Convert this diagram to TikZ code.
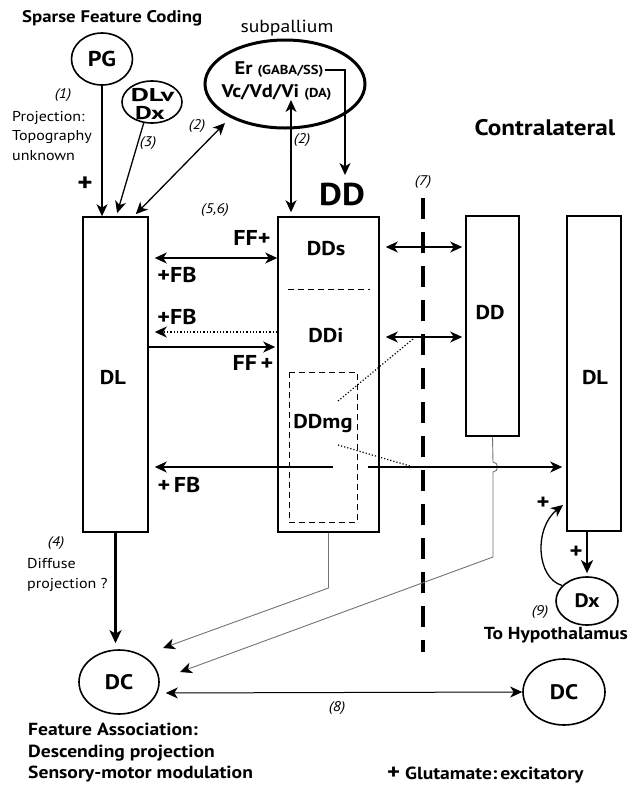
\documentclass[tikz,border=0pt]{standalone}
\usepackage{fontspec}
\setmainfont{PT Sans}[FakeStretch=1.12]
\usetikzlibrary{arrows.meta,calc,shapes.geometric}
\newcommand\myfs[2]{\fontsize{#1}{#2}\selectfont}
\begin{document}
\begin{tikzpicture}[x=1pt,y=-1pt,
  >={Stealth[length=12pt,width=11pt,inset=3.5pt]},
  ell/.style={draw,ellipse,line width=1.6pt,inner sep=0pt},
  box/.style={draw,rectangle,line width=1.5pt,inner sep=0pt},
  arr/.style={->,line width=1.3pt},
  darr/.style={<->,line width=1.3pt},
  thk/.style={->,line width=2.6pt,>={Stealth[length=13pt,width=12pt,inset=3.5pt]}},
  gline/.style={line width=0.9pt,black!55},
  garr/.style={gline,-{Stealth[length=12pt,width=11pt,inset=3.5pt,color=black]}},
  bl/.style={font=\myfs{20}{22}\bfseries,inner sep=1pt},
  fl/.style={font=\myfs{21.5}{22}\bfseries,inner sep=1pt},
  lab/.style={font=\myfs{14}{15}\itshape,inner sep=1pt},
  txt/.style={font=\myfs{14.3}{19.5},inner sep=0pt,align=left},
  btxt/.style={font=\myfs{17.5}{21.5}\bfseries,inner sep=0pt,align=left},
  plus/.style={font=\myfs{26}{26}\bfseries,inner sep=0pt},
]
\useasboundingbox (0,0) rectangle (631,788);

% ---------- titles ----------
\node[font=\myfs{16.8}{18}\bfseries,anchor=west,inner sep=0pt] (title) at (22,18) {Sparse Feature Coding};
\node[font=\myfs{17.5}{20},inner sep=0pt] (subl) at (287,28) {subpallium};
\node[font=\myfs{22.5}{24}\bfseries,inner sep=0pt] (contra) at (545,128) {Contralateral};

% ---------- ellipses ----------
\node[ell,minimum width=61pt,minimum height=52pt,font=\myfs{21.5}{22}\bfseries] (PG) at (102,59) {PG};
\node[ell,minimum width=60pt,minimum height=42pt] (DLv) at (152,102) {};
\node[font=\myfs{18.5}{18}\bfseries,inner sep=0pt] (DLvt) at (152.5,95) {\scalebox{1.35}[1]{DLv}};
\node[font=\myfs{18.5}{18}\bfseries,inner sep=0pt] (Dxt) at (150,113) {\scalebox{1.25}[1]{Dx}};
\node[ell,line width=3pt,minimum width=160pt,minimum height=88pt] (sub) at (285,84) {};
\node[font=\myfs{18.3}{20}\bfseries,inner sep=1pt] (er) at (279,70) {Er {\myfs{13}{14}(GABA/SS)}};
\node[font=\myfs{18.3}{20}\bfseries,inner sep=1pt] (vc) at (276.5,92) {Vc/Vd/Vi {\myfs{13}{14}(DA)}};

% ---------- boxes ----------
\node[box,minimum width=65pt,minimum height=315pt] (DL) at (115.5,374.5) {};
\node[box,minimum width=101pt,minimum height=315pt] (DD) at (328.5,374.5) {};
\node[box,minimum width=53pt,minimum height=220pt] (cDD) at (492.5,326) {};
\node[box,minimum width=54pt,minimum height=315pt] (cDL) at (594,373.5) {};
\node[bl] (DLt) at (113,378) {DL};
\node[bl] (cDDt) at (490,313) {DD};
\node[bl] (cDLt) at (595,378) {DL};
\node[font=\myfs{31.5}{32}\bfseries,inner sep=0pt] (DDbig) at (342,194) {DD};
\node[bl] (DDs) at (326,249) {DDs};
\node[bl] (DDi) at (326,335) {DDi};
\node[bl] (DDmg) at (323,424) {DDmg};
\draw[line width=1pt,dash pattern=on 6pt off 4pt] (288,289) -- (370,289);
\draw[line width=1pt,dash pattern=on 6pt off 4pt] (289,372) rectangle (357,522);

% ---------- lower ellipses ----------
\node[ell,minimum width=80pt,minimum height=64pt,font=\myfs{21}{22}\bfseries] (DCl) at (119,682) {DC};
\node[ell,minimum width=82pt,minimum height=66pt,font=\myfs{21}{22}\bfseries] (DCr) at (564,692) {DC};
\node[ell,minimum width=62pt,minimum height=48pt,font=\myfs{19.5}{20}\bfseries] (Dx) at (587,601) {Dx};

% ---------- coordinates ----------
\coordinate (dl2) at (116,217);
\coordinate (dl3) at (133,217);
\coordinate (s3) at (225,123);
\coordinate (s2) at (291,100);
\coordinate (ddin) at (345,175);
\coordinate (fbL) at (333,467);
\coordinate (fbR) at (368,467);
\coordinate (cv) at (563,505);
\coordinate (dlvout) at (144,122);

% ---------- top inputs ----------
\draw[arr] (PG) -- (PG |- DL.north);
\draw[arr,shorten >=4pt] (dlvout) -- (dl2);
\draw[darr,shorten >=4pt] (s3) -- (dl3);
\draw[darr,shorten >=4pt] (s2) -- (s2 |- DD.north);
\draw[arr] (er.east) -| (ddin);

% ---------- DL <-> DD ----------
\draw[darr,shorten <=6pt] (DL.east |- 0,258) -- (DD.west |- 0,258);
\draw[arr,dotted,line width=1.6pt,shorten >=6pt] (DD.west |- 0,332) -- (DL.east |- 0,332);
\draw[arr,shorten >=2pt] (DL.east |- 0,347) -- (DD.west |- 0,347);
\draw[arr,shorten >=6pt] (fbL) -- (DL.east |- fbL);

% ---------- dashed midline ----------
\draw[line width=4pt,dash pattern=on 21pt off 13pt] (423,198) -- (423,652);

% ---------- DD <-> contralateral DD ----------
\draw[darr,shorten <=6pt,shorten >=3pt] (DD.east |- 0,247) -- (cDD.west |- 0,247);
\draw[darr,shorten <=6pt,shorten >=3pt] (DD.east |- 0,337) -- (cDD.west |- 0,337);

% dotted lines from DDmg
\draw[dotted,line width=1.2pt] (338,401) -- (413,339);
\draw[dotted,line width=1.2pt] (338,445) -- (410,466);

% grey lines to DC
\draw[garr] (DD.south) -- (DD.south |- 0,588) -- (163,648);
\draw[garr] (cDD.south) -- (493,462) .. controls (499,462) and (499,472) .. (493,472) -- (493,557) -- (180,672);

% long arrow to contralateral DL
\draw[arr,shorten >=4pt] (fbR) -- (cDL.west |- fbR);

% ---------- lower connections ----------
\draw[thk,shorten >=6pt] (DL.south) -- (DL.south |- DCl.north);
\draw[<->,line width=1pt,shorten <=6pt] (DCl.east |- 0,693) -- (DCr.west);
\draw[thk,line width=2.4pt,shorten >=3pt] (Dx.north |- cDL.south) -- (Dx.north);
\draw[arr,line width=1.3pt] (Dx.148) .. controls (536,578) and (534,528) .. (cv);

% ---------- labels ----------
\node[lab] (l1) at (63,95) {(1)};
\node[txt,anchor=west] (projt) at (12,136) {Projection:\\Topography\\unknown};
\node[plus] (p1) at (85,184) {+};
\node[lab] (l3) at (148,143) {(3)};
\node[lab] (l2a) at (197,126) {(2)};
\node[lab] (l2b) at (302,140) {(2)};
\node[lab] (l56) at (215,210) {(5,6)};
\node[lab] (l7) at (423,182) {(7)};
\node[fl] (ff1) at (252,238) {FF+};
\node[fl] (fb1) at (177,275) {+FB};
\node[fl] (fb2) at (177,317) {+FB};
\node[fl] (ff2) at (253,363) {FF\,+};
\node[fl] (fb3) at (179,485) {+\,FB};

\node[lab] (l4) at (56,543) {(4)};
\node[txt,anchor=west] (diff) at (27,575) {Diffuse\\projection ?};
\node[lab] (l8) at (337,708) {(8)};
\node[lab] (l9) at (540,612) {(9)};
\node[font=\myfs{17.4}{18}\bfseries,inner sep=0pt,anchor=east] (hyp) at (628,635) {To Hypothalamus};
\node[plus,font=\myfs{22}{22}\bfseries] (p2) at (543,503) {+};
\node[plus,font=\myfs{22}{22}\bfseries] (p3) at (576,552) {+};
\node[btxt,anchor=west] (feat) at (28,753) {Feature Association:\\Descending projection\\Sensory-motor modulation};
\node[font=\myfs{17.5}{18}\bfseries,inner sep=0pt,anchor=west] (glu) at (387,775) {{\myfs{22}{18}+} Glutamate:\,excitatory};
\end{tikzpicture}
\end{document}
